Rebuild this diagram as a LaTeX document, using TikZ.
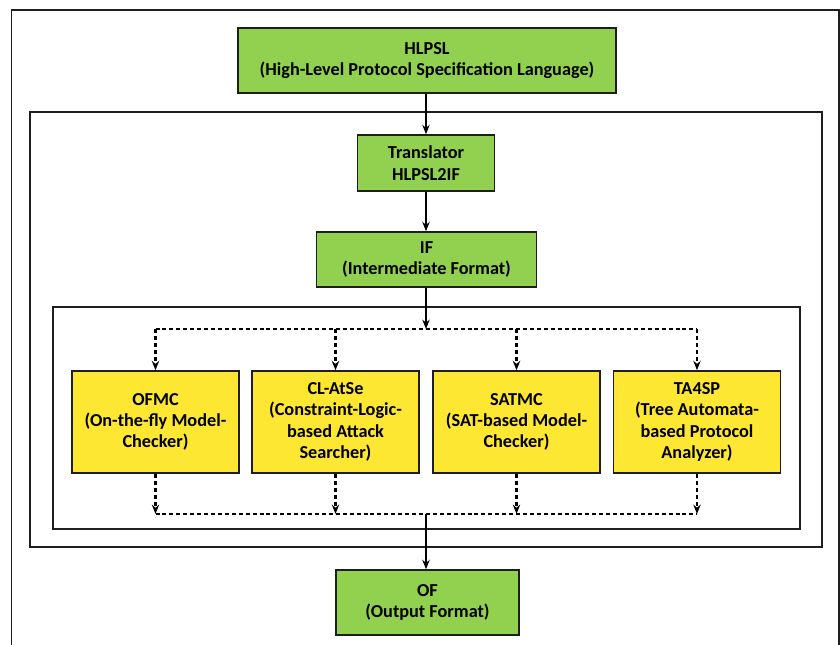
\documentclass[tikz,border=0pt]{standalone}
\usepackage{fontspec}
\setmainfont{Carlito}
\usetikzlibrary{arrows.meta}
\definecolor{boxgreen}{RGB}{146,208,80}
\definecolor{boxyellow}{RGB}{253,231,50}
\definecolor{edge}{RGB}{30,30,30}
\begin{document}
\begin{tikzpicture}[x=0.75pt,y=-0.75pt,
  every node/.style={font=\bfseries\fontsize{13.7pt}{16pt}\selectfont, align=center, inner sep=0pt},
  gbox/.style={draw=edge, line width=1.2pt, fill=boxgreen, rectangle},
  ybox/.style={draw=edge, line width=1.2pt, fill=boxyellow, rectangle, minimum width=125pt, minimum height=76.5pt},
  frame/.style={draw=edge, line width=1.2pt},
  flow/.style={line width=1.6pt, -{Stealth[length=7pt,width=5.5pt]}},
  dflow/.style={line width=1.6pt, dash pattern=on 3pt off 2.2pt, -{Stealth[length=7pt,width=5.5pt]}},
  dline/.style={line width=1.6pt, dash pattern=on 3pt off 2.2pt}]
\useasboundingbox (0,0) rectangle (840,644);
\begin{scope}
\clip (0,0) rectangle (840,644);
% outermost frame, running past the page edge at the bottom
\draw[frame] (11.5,700) -- (11.5,10) -- (839,10) -- (839,700);
\end{scope}
% enclosing frames
\draw[frame] (30,112) rectangle (822,547);
\draw[frame] (53,307) rectangle (800,529);

% main pipeline
\node[gbox, minimum width=283.5pt, minimum height=48.75pt] (hlpsl) at (427,60.5)
  {HLPSL\\(High-Level Protocol Specification Language)};
\node[gbox, minimum width=102.75pt, minimum height=42pt] (trans) at (426,163)
  {Translator\\HLPSL2IF};
\node[gbox, minimum width=165pt, minimum height=41.25pt] (if) at (426.5,259.5)
  {IF\\(Intermediate Format)};

% back-ends
\node[ybox] (ofmc)  at (155.5,422) {OFMC\\(On-the-fly Model-\\Checker)};
\node[ybox] (clatse) at (335.5,422) {CL-AtSe\\(Constraint-Logic-\\based Attack\\Searcher)};
\node[ybox] (satmc) at (516.5,422) {SATMC\\(SAT-based Model-\\Checker)};
\node[ybox] (tasp)  at (697,422) {TA4SP\\(Tree Automata-\\based Protocol\\Analyzer)};

\node[gbox, minimum width=137.25pt, minimum height=48.75pt] (of) at (427.5,602.5)
  {OF\\(Output Format)};

\coordinate (split) at (426,329);
\coordinate (join) at (426,514);

\draw[flow] (hlpsl.south -| 426,0) -- (trans.north -| 426,0);
\draw[flow] (trans.south -| 426,0) -- (if.north -| 426,0);
\draw[flow] (if.south -| split) -- (split);
\draw[flow] (join) -- (of.north -| join);

% distribution bus
\draw[dline] (ofmc.north |- split) -- (tasp.north |- split);
\foreach \n in {ofmc,clatse,satmc,tasp}
  \draw[dflow] (\n.north |- split) -- (\n.north);
% collection bus
\draw[dline] (ofmc.south |- join) -- (tasp.south |- join);
\foreach \n in {ofmc,clatse,satmc,tasp}
  \draw[dflow] (\n.south) -- (\n.south |- join);
\end{tikzpicture}
\end{document}
